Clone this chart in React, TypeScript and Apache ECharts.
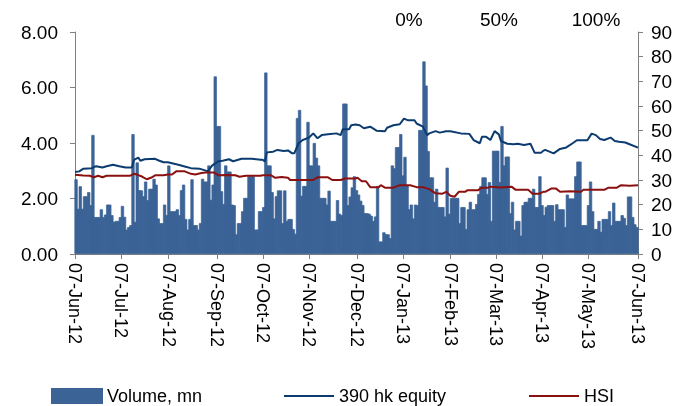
import React, { useEffect, useRef } from "react";
import * as echarts from "echarts";

// Daily volume (mn), in two-month blocks
const volJunJul = [2.69, 1.63, 2.44, 1.63, 2.08, 2.08, 2.23, 1.76, 4.29, 1.33, 1.33, 1.33, 1.61, 1.33, 1.42, 1.78, 1.78, 1.4, 1.16, 1.19, 1.19, 1.33, 1.73, 1.34, 0.88, 0.97, 1.04, 4.32, 1.16, 3.3, 2.3, 2.29, 2.08, 2.61, 1.94, 2.35, 2.35, 2.71, 2.5, 1.28, 1.11, 1.11, 1.78];
const volAugSep = [1.4, 3.19, 1.54, 1.54, 1.54, 1.61, 1.4, 2.3, 2.5, 1.26, 0.88, 1.26, 2.69, 1.04, 1.04, 0.88, 1.11, 2.71, 2.61, 2.61, 3.19, 1.95, 2.5, 6.4, 4.61, 4.61, 2.26, 1.8, 3.19, 2.97, 2.97, 1.78, 1.76, 0.71, 1.11, 1.11, 1.54, 2.02, 2.02, 2.8, 2.8, 2.8, 0.88, 0.88, 1.54];
const volOctNov = [1.54, 1.69, 6.54, 3.19, 3.19, 2.23, 1.28, 2.08, 2.29, 2.29, 1.11, 2.29, 1.19, 1.26, 1.26, 0.9, 0.73, 4.9, 5.19, 2.1, 2.45, 2.45, 4.76, 3.19, 3.19, 4.0, 3.47, 3.19, 2.02, 2.02, 2.02, 1.78, 2.28, 1.19, 1.19, 1.19, 1.94, 1.45, 1.4, 5.42, 5.42, 1.76, 2.07, 2.4, 2.8];
const volDecJan = [2.3, 2.14, 1.92, 1.76, 1.47, 1.47, 1.45, 1.38, 1.19, 1.35, 2.45, 0.45, 0.45, 0.78, 0.71, 0.71, 0.57, 3.19, 3.09, 3.85, 3.85, 4.32, 2.83, 3.5, 2.47, 1.61, 1.78, 1.28, 1.78, 1.76, 4.47, 4.47, 6.94, 6.07, 3.71, 2.76, 2.76, 1.88, 2.35, 1.69, 1.69, 1.69, 1.35, 3.11];
const volFebMar = [1.45, 2.02, 2.02, 2.02, 2.02, 1.11, 1.69, 1.69, 0.9, 1.61, 1.88, 1.61, 1.61, 1.8, 2.16, 2.45, 2.76, 2.76, 2.16, 2.59, 1.19, 3.72, 3.72, 3.72, 2.59, 4.61, 3.19, 3.51, 3.51, 1.47, 1.88, 0.88, 1.19, 1.19, 0.66, 1.76, 1.88, 1.88, 2.02, 2.02, 2.35, 1.69, 1.69, 2.8, 1.76];
const volAprMay = [1.4, 1.7, 1.76, 1.76, 1.76, 1.19, 1.79, 1.61, 1.61, 1.61, 0.97, 2.14, 2.0, 2.0, 2.0, 2.8, 3.33, 3.33, 1.04, 1.04, 1.04, 1.76, 2.61, 1.54, 0.9, 0.9, 1.19, 0.8, 1.26, 1.26, 1.26, 1.54, 1.04, 1.85, 1.19, 1.19, 1.19, 1.4, 1.3, 1.04, 2.07, 2.07, 1.33, 1.07, 0.97];

// 390 hk equity, [trading-day index, price]
const eqJunJul = [[0, 33.2], [2, 33.5], [4, 34.6], [8, 34.8], [10, 35.6], [13, 35.1], [15, 35.6], [18, 36.2], [21, 35.6], [24, 35.1], [27, 35.1], [28, 38.2], [30, 39.1], [31, 37.8], [33, 38.4], [38, 38.6], [40, 37.8], [42, 37.2]];
const eqAugSep = [[44, 37.2], [49, 36.2], [52, 35.5], [55, 34.8], [59, 34.6], [62, 33.8], [63, 33.5], [65, 35.8], [68, 37.6], [70, 37.8], [73, 38.4], [75, 37.6], [79, 38.6], [84, 38.6], [88, 38.2]];
const eqOctNov = [[89, 38.2], [90, 37.5], [91, 41.2], [94, 41.5], [96, 42.2], [99, 41.8], [101, 42], [103, 40.8], [104, 40.8], [106, 44.9], [108, 46.2], [111, 47.2], [113, 48.9], [115, 46.9], [117, 48.2], [120, 48.5], [124, 48.9], [126, 48.2], [127, 50.6], [130, 50.6], [131, 52.2], [133, 52.5]];
const eqDecJan = [[135, 52.2], [137, 51], [140, 51.6], [143, 50], [147, 49.8], [148, 51.2], [151, 52.2], [154, 52.6], [156, 54.9], [158, 54.2], [161, 54.2], [162, 52.9], [165, 51.6], [167, 48.2], [168, 48.9], [171, 49.8], [173, 49.2], [176, 49.8]];
const eqFebMar = [[178, 49.8], [183, 48.9], [187, 48.7], [188, 47.5], [189, 46.2], [192, 44.9], [193, 47.5], [195, 47.5], [197, 46.2], [199, 49.8], [201, 48.5], [202, 45.8], [205, 44.7], [208, 44.5], [210, 44.7], [213, 44.2], [216, 44.7], [218, 41], [221, 41], [222, 41.8]];
const eqAprMay = [[223, 42.2], [227, 40.8], [230, 42.6], [233, 43.2], [236, 44.9], [238, 46.1], [243, 46.1], [245, 48.8], [247, 48.2], [249, 46.6], [251, 46.2], [254, 47.2], [256, 45.8], [258, 45.5], [261, 45.2], [263, 44.5], [267, 43.1]];

// HSI (rebased), [trading-day index, value]
const hsiJunJul = [[0, 32.1], [4, 31.8], [7, 31.7], [9, 31.1], [11, 31.7], [13, 31.1], [15, 31.7], [20, 31.7], [26, 31.7], [28, 32.5], [30, 32], [32, 31.3], [34, 30.3], [36, 30.9], [38, 31.9], [42, 31.9]];
const hsiAugSep = [[44, 32.2], [46, 32.2], [48, 33.5], [52, 33.5], [55, 32.5], [57, 32.2], [60, 32.8], [62, 33], [66, 33], [68, 31.9], [72, 32], [76, 31.9], [78, 31.3], [81, 31.7], [88, 31.7]];
const hsiOctNov = [[89, 31.9], [93, 31.9], [95, 30.9], [98, 31.2], [101, 30.9], [102, 30], [106, 30], [110, 30], [113, 30], [115, 31.1], [120, 31.1], [122, 30], [126, 30], [128, 30.6], [133, 30.6]];
const hsiDecJan = [[134, 30.9], [136, 29.5], [138, 29.5], [140, 27.1], [144, 27.1], [145, 27.9], [147, 26.9], [151, 26.9], [154, 27.9], [159, 27.9], [162, 27.1], [165, 27.1], [168, 26.3], [171, 24.6], [174, 24.4], [176, 25.2]];
const hsiFebMar = [[178, 23.6], [180, 23.2], [182, 25.2], [185, 25.2], [186, 25.8], [191, 25.8], [193, 26.9], [196, 26.9], [197, 27.3], [202, 27], [207, 27.3], [209, 26], [215, 26], [217, 24.4], [220, 24.4], [222, 25.2]];
const hsiAprMay = [[223, 25.2], [226, 26.6], [228, 26.6], [230, 25.2], [235, 25.4], [240, 25.2], [241, 26], [246, 26], [251, 26], [253, 26.9], [257, 26.9], [259, 27.9], [263, 27.7], [267, 27.9]];

// Date ticks (trading-day index of each 7th of month) and their labels
const tickIdx = [0, 22, 44.4, 67.3, 89.3, 111.1, 133.7, 155.7, 178.1, 199.6, 221.4, 243.2, 267];
const tickLabels = ["07-Jun-12", "07-Jul-12", "07-Aug-12", "07-Sep-12", "07-Oct-12", "07-Nov-12", "07-Dec-12", "07-Jan-13", "07-Feb-13", "07-Mar-13", "07-Apr-13", "07-May-13", "07-Jun-13"];
const topLabels = ["0%", "50%", "100%"];

const FONT = "'Liberation Sans', Arial, sans-serif";

export default function App() {
  const ref = useRef<HTMLDivElement>(null);
  useEffect(() => {
    if (!ref.current) return;
    const chart = echarts.init(ref.current, undefined, { renderer: "svg" });
    const vol = [...volJunJul, ...volAugSep, ...volOctNov, ...volDecJan, ...volFebMar, ...volAprMay];
    const eq = [...eqJunJul, ...eqAugSep, ...eqOctNov, ...eqDecJan, ...eqFebMar, ...eqAprMay];
    const hsi = [...hsiJunJul, ...hsiAugSep, ...hsiOctNov, ...hsiDecJan, ...hsiFebMar, ...hsiAprMay];
    const axisGray = "#808080";
    const barColor = "#3B6396";
    const labelFor = (v: number) => {
      let best = 0;
      tickIdx.forEach((t, i) => {
        if (Math.abs(t - v) < Math.abs(tickIdx[best] - v)) best = i;
      });
      return tickLabels[best];
    };
    const topX = [409, 499, 596];
    const legendText = { fontSize: 18, color: "#000", fontFamily: FONT };
    chart.setOption({
      animation: false,
      textStyle: { fontFamily: FONT },
      grid: { left: 75, right: 57, top: 32, bottom: 152, containLabel: false },
      legend: [
        { data: ["Volume, mn"], left: 51, top: 387, padding: 0, itemWidth: 50, itemHeight: 14, icon: "rect", textStyle: legendText },
        { data: ["390 hk equity"], left: 284, top: 387, padding: 0, itemWidth: 50, itemHeight: 2, icon: "rect", textStyle: legendText },
        { data: ["HSI"], left: 529, top: 387, padding: 0, itemWidth: 50, itemHeight: 2, icon: "rect", textStyle: legendText },
      ],
      xAxis: {
        type: "value",
        min: 0,
        max: 267,
        splitLine: { show: false },
        axisLine: { show: true, lineStyle: { color: axisGray, width: 1 } },
        axisTick: { show: true, length: 5, customValues: tickIdx, lineStyle: { color: axisGray } },
        axisLabel: {
          customValues: tickIdx,
          rotate: -90,
          margin: 9,
          fontSize: 18,
          color: "#000",
          fontFamily: FONT,
          formatter: (v: number) => labelFor(v),
        },
      },
      yAxis: [
        {
          type: "value",
          min: 0,
          max: 8,
          interval: 2,
          position: "left",
          splitLine: { show: false },
          axisLine: { show: true, lineStyle: { color: axisGray } },
          axisTick: { show: true, length: 5, lineStyle: { color: axisGray } },
          axisLabel: { fontSize: 19, color: "#000", margin: 17, fontFamily: FONT, formatter: (v: number) => v.toFixed(2) },
        },
        {
          type: "value",
          min: 0,
          max: 90,
          interval: 10,
          position: "right",
          splitLine: { show: false },
          axisLine: { show: true, lineStyle: { color: axisGray } },
          axisTick: { show: true, length: 5, lineStyle: { color: axisGray } },
          axisLabel: { fontSize: 19, color: "#000", margin: 13, fontFamily: FONT },
        },
      ],
      graphic: topLabels.map((t, i) => ({
        type: "text",
        x: topX[i],
        y: 19,
        style: { text: t, fontSize: 19, fontFamily: FONT, fill: "#000", align: "center", verticalAlign: "middle" },
      })),
      series: [
        {
          name: "Volume, mn",
          type: "bar",
          yAxisIndex: 0,
          barWidth: 3.2,
          itemStyle: { color: barColor, borderColor: barColor, borderWidth: 0.7 },
          data: vol.map((v, i) => [i + 0.5, v]),
        },
        {
          name: "390 hk equity",
          type: "line",
          yAxisIndex: 1,
          symbol: "none",
          lineStyle: { color: "#0B3B6F", width: 2 },
          itemStyle: { color: "#0B3B6F" },
          data: eq,
        },
        {
          name: "HSI",
          type: "line",
          yAxisIndex: 1,
          symbol: "none",
          lineStyle: { color: "#8B1010", width: 2 },
          itemStyle: { color: "#8B1010" },
          data: hsi,
        },
      ],
    });
    return () => chart.dispose();
  }, []);
  return <div ref={ref} style={{ position: "fixed", left: 0, top: 0, width: 695, height: 406 }} />;
}
